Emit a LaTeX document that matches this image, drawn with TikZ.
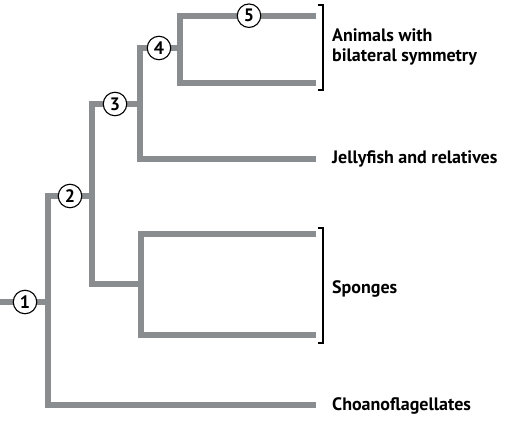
\documentclass[tikz,border=0pt]{standalone}
\usepackage{fontspec}
\setmainfont{PT Sans}
\definecolor{branch}{RGB}{138,141,143}
\begin{document}
\begin{tikzpicture}[x=1pt,y=-1pt,
  br/.style={draw=branch,line width=6pt,line cap=butt,line join=miter},
  num/.style={circle,draw=black,line width=1.1pt,fill=white,minimum size=23.5pt,inner sep=0pt,font=\fontsize{18}{18}\selectfont\bfseries},
  lab/.style={anchor=west,align=left,inner sep=0pt,font=\fontsize{18}{20}\selectfont\bfseries},
  brk/.style={draw=black,line width=1.1pt}]
\useasboundingbox (0,0) rectangle (505,428);
% leaf ends
\coordinate (l5) at (316,15.7);
\coordinate (l4) at (316,83);
\coordinate (lj) at (316,159);
\coordinate (ls1) at (316,234);
\coordinate (ls2) at (316,335);
\coordinate (lc) at (316,405);
\coordinate (root) at (0,302);
% internal junctions
\coordinate (j4) at (180,48);
\coordinate (j3) at (140,104);
\coordinate (j2) at (92,196);
\coordinate (js) at (141,284);
\coordinate (j1) at (48,302);
% branches
\draw[br] (l5) -- (l5 -| j4) -- (l4 -| j4) -- (l4);
\draw[br] (j4) -- (j4 -| j3) -- (lj -| j3) -- (lj);
\draw[br] (j3) -- (j3 -| j2) -- (js -| j2) -- (js);
\draw[br] (ls1) -- (ls1 -| js) -- (ls2 -| js) -- (ls2);
\draw[br] (j2) -- (j2 -| j1) -- (lc -| j1) -- (lc);
\draw[br] (root) -- (j1);
% numbered circles
\node[num] (n1) at (25,302) {1};
\node[num] (n2) at (70,196) {2};
\node[num] (n3) at (115,104) {3};
\node[num] (n4) at (159,48) {4};
\node[num] (n5) at (249,15.7) {5};
% brackets
\coordinate (b1t) at (323,5);
\coordinate (b1b) at (323,90);
\coordinate (b2t) at (323,228);
\coordinate (b2b) at (323,343);
\draw[brk] ([xshift=-5pt]b1t) -- (b1t) -- (b1b) -- ([xshift=-5pt]b1b);
\draw[brk] ([xshift=-5pt]b2t) -- (b2t) -- (b2b) -- ([xshift=-5pt]b2b);
% labels
\node[lab] (t1) at (332,47) {Animals with\\bilateral symmetry};
\node[lab] (t2) at (332,159) {Jellyfish and relatives};
\node[lab] (t3) at (332,289) {Sponges};
\node[lab] (t4) at (332,406) {Choanoflagellates};
\end{tikzpicture}
\end{document}
